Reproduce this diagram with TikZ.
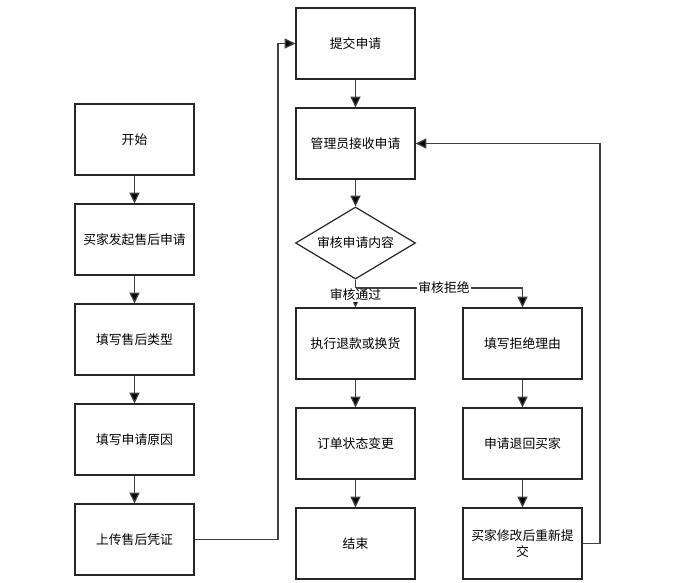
\documentclass[tikz,border=0pt]{standalone}
\usepackage{fontspec}
\setmainfont{Noto Sans CJK SC}
\usetikzlibrary{arrows.meta,shapes.geometric}
\begin{document}
\begin{tikzpicture}[x=0.75pt,y=-0.75pt,
  every node/.style={font=\fontsize{9.6}{12}\selectfont},
  box/.style={draw=black!85,line width=0.9pt,minimum width=89.25pt,minimum height=53.25pt,inner sep=0pt,align=center},
  dec/.style={draw=black!85,line width=0.9pt,diamond,aspect=1.65,inner sep=0pt,minimum width=90pt,minimum height=54pt},
  arr/.style={draw=black!75,line width=0.9pt,-{Triangle[length=8pt,width=7.5pt,fill=black]}},
  ln/.style={draw=black!75,line width=0.9pt},
  lab/.style={fill=white,inner sep=1pt}]
\useasboundingbox (0,0) rectangle (678,582);
% left column
\node[box] (a1) at (134.5,139.5) {开始};
\node[box] (a2) at (134.5,239.5) {买家发起售后申请};
\node[box] (a3) at (134.5,339.5) {填写售后类型};
\node[box] (a4) at (134.5,439.5) {填写申请原因};
\node[box] (a5) at (134.5,539.5) {上传售后凭证};
% middle column
\node[box] (m1) at (355.5,43.5) {提交申请};
\node[box] (m2) at (355.5,143.5) {管理员接收申请};
\node[dec] (d) at (355.5,243) {审核申请内容};
\node[box] (m3) at (355.5,343.5) {执行退款或换货};
\node[box] (m4) at (355.5,443.5) {订单状态变更};
\node[box] (m5) at (355.5,543.5) {结束};
% right column
\node[box] (r1) at (522.5,343.5) {填写拒绝理由};
\node[box] (r2) at (522.5,443.5) {申请退回买家};
\node[box] (r3) at (522.5,543.5) {买家修改后重新提\\交};
% helper coordinates
\coordinate (c1) at (278,0);
\coordinate (c2) at (600,0);
\coordinate (sp) at (355.5,288);
% connectors
\draw[arr] (a1) -- (a2);
\draw[arr] (a2) -- (a3);
\draw[arr] (a3) -- (a4);
\draw[arr] (a4) -- (a5);
\draw[arr] (a5.east) -- (a5.east -| c1) |- (m1.west);
\draw[arr] (m1) -- (m2);
\draw[arr] (m2) -- (d.north);
\draw[ln] (d.south) -- (sp);
\draw[arr] (sp) -- (m3.north) node[lab,pos=0.35] {审核通过};
\draw[arr] (sp) -| (r1.north);
\node[lab] (lr) at (444,288) {审核拒绝};
\draw[arr] (m3) -- (m4);
\draw[arr] (m4) -- (m5);
\draw[arr] (r1) -- (r2);
\draw[arr] (r2) -- (r3);
\draw[arr] (r3.east) -- (r3.east -| c2) |- (m2.east);
\end{tikzpicture}
\end{document}
